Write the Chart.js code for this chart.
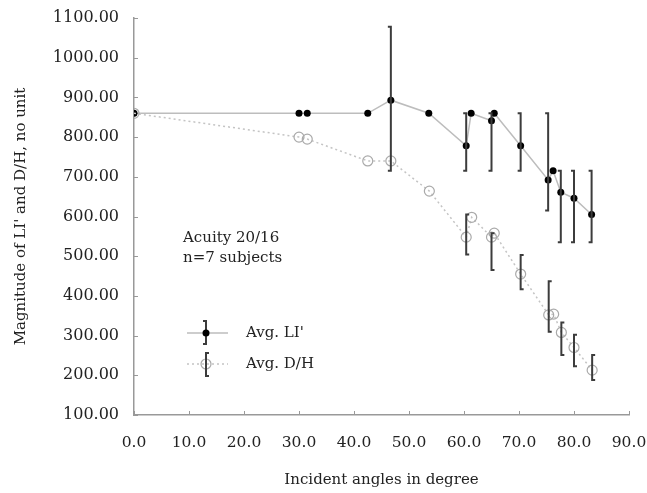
<!DOCTYPE html>
<html lang="en">
<head>
<meta charset="UTF-8" />
<title>LI' and D/H vs incident angle</title>
<script src="https://cdn.jsdelivr.net/npm/chart.js@4"></script>
<style>
  html, body { margin: 0; padding: 0; background: #fff; }
  #wrap { width: 647px; height: 493px; }
</style>
</head>
<body>
<div id="wrap"><canvas id="chart" width="647" height="493"></canvas></div>
<script>
  // Avg. LI' (filled dots, solid line, bars with left-facing caps)
  const liAngles = [0, 30, 31.5, 42.5, 46.7, 53.6, 60.4, 61.3, 65, 65.5, 70.3, 75.3, 76.2, 77.6, 80, 83.2];
  const liValues = [860, 860, 860, 860, 893, 860, 778, 860, 841, 860, 778, 692, 715, 661, 646, 605];
  const liLow    = [null, null, null, null, 715, null, 715, null, 715, null, 715, 615, null, 535, 535, 535];
  const liHigh   = [null, null, null, null, 1078, null, 860, null, 860, null, 860, 860, null, 715, 715, 715];

  // Avg. D/H (open circles, dotted line, bars with right-facing caps)
  const dhAngles = [0, 30, 31.5, 42.5, 46.7, 53.7, 60.4, 61.4, 65, 65.5, 70.3, 75.4, 76.3, 77.7, 80, 83.3];
  const dhValues = [860, 800, 795, 740, 740, 664, 548, 598, 548, 558, 455, 352, 354, 308, 270, 213];
  const dhLow    = [null, null, null, null, null, null, 504, null, 465, null, 417, 310, null, 251, 223, 188];
  const dhHigh   = [null, null, null, null, null, null, 605, null, 558, null, 503, 437, null, 333, 302, 251];

  const seriesNames = ["Avg. LI'", 'Avg. D/H'];
  const noteLines = ['Acuity 20/16', 'n=7 subjects'];

  const FONT = "'DejaVu Serif', serif";
  const TEXT = '#222';
  Chart.defaults.font.family = FONT;

  const toPoints = (xs, ys) => xs.map((a, i) => ({ x: a, y: ys[i] }));

  // error bars drawn through the chart scales
  const errorBars = {
    id: 'errorBars',
    afterDatasetsDraw(chart) {
      const { ctx, scales: { x, y } } = chart;
      const sets = [[dhAngles, dhLow, dhHigh, 1], [liAngles, liLow, liHigh, -1]];
      ctx.save();
      ctx.strokeStyle = '#3c3c3c';
      ctx.lineWidth = 2;
      sets.forEach(([ax, lo, hi, dir]) => {
        ax.forEach((a, i) => {
          if (lo[i] == null) return;
          const px = x.getPixelForValue(a);
          const y1 = y.getPixelForValue(hi[i]);
          const y2 = y.getPixelForValue(lo[i]);
          ctx.beginPath();
          ctx.moveTo(px + dir * 3, y1);
          ctx.lineTo(px, y1);
          ctx.lineTo(px, y2);
          ctx.lineTo(px + dir * 3, y2);
          ctx.stroke();
        });
      });
      ctx.restore();
    }
  };

  // small inward tick marks on both axes, plus the note and the legend
  const extras = {
    id: 'extras',
    afterDraw(chart) {
      const { ctx, scales: { x, y }, chartArea: a } = chart;
      ctx.save();
      ctx.strokeStyle = '#999';
      ctx.lineWidth = 1;
      x.ticks.forEach(t => {
        const px = Math.round(x.getPixelForValue(t.value)) + 0.5;
        ctx.beginPath(); ctx.moveTo(px, a.bottom); ctx.lineTo(px, a.bottom - 4); ctx.stroke();
      });
      y.ticks.forEach(t => {
        const py = Math.round(y.getPixelForValue(t.value)) + 0.5;
        ctx.beginPath(); ctx.moveTo(a.left, py); ctx.lineTo(a.left + 4, py); ctx.stroke();
      });

      ctx.fillStyle = TEXT;
      ctx.font = '15px ' + FONT;
      ctx.textBaseline = 'middle';
      ctx.textAlign = 'left';
      ctx.fillText(noteLines[0], 183, 238);
      ctx.fillText(noteLines[1], 183, 258);

      // legend: LI'
      const lx = 206, l1 = 333, l2 = 364;
      ctx.strokeStyle = '#bdbdbd'; ctx.lineWidth = 1.5;
      ctx.beginPath(); ctx.moveTo(187, l1); ctx.lineTo(228, l1); ctx.stroke();
      ctx.strokeStyle = '#3c3c3c'; ctx.lineWidth = 2;
      ctx.beginPath(); ctx.moveTo(lx - 3, l1 - 12); ctx.lineTo(lx, l1 - 12); ctx.lineTo(lx, l1 + 11); ctx.lineTo(lx - 3, l1 + 11); ctx.stroke();
      ctx.fillStyle = '#000';
      ctx.beginPath(); ctx.arc(lx, l1, 3.5, 0, Math.PI * 2); ctx.fill();
      // legend: D/H
      ctx.strokeStyle = '#c4c4c4'; ctx.lineWidth = 1.5; ctx.setLineDash([2, 3]);
      ctx.beginPath(); ctx.moveTo(187, l2); ctx.lineTo(228, l2); ctx.stroke();
      ctx.setLineDash([]);
      ctx.strokeStyle = '#aaa'; ctx.lineWidth = 1.2;
      ctx.beginPath(); ctx.arc(lx, l2, 5, 0, Math.PI * 2); ctx.stroke();
      ctx.strokeStyle = '#3c3c3c'; ctx.lineWidth = 2;
      ctx.beginPath(); ctx.moveTo(lx + 3, l2 - 11); ctx.lineTo(lx, l2 - 11); ctx.lineTo(lx, l2 + 12); ctx.lineTo(lx + 3, l2 + 12); ctx.stroke();

      ctx.fillStyle = TEXT;
      ctx.fillText(seriesNames[0], 246, l1);
      ctx.fillText(seriesNames[1], 246, l2);
      ctx.restore();
    }
  };

  new Chart(document.getElementById('chart'), {
    type: 'scatter',
    data: {
      datasets: [
        {
          label: seriesNames[1],
          data: toPoints(dhAngles, dhValues),
          showLine: true,
          borderColor: '#c4c4c4',
          borderWidth: 1.5,
          borderDash: [2, 3],
          pointStyle: 'circle',
          pointRadius: 5,
          pointBorderWidth: 1.2,
          pointBorderColor: '#aaa',
          pointBackgroundColor: 'rgba(255,255,255,0)'
        },
        {
          label: seriesNames[0],
          data: toPoints(liAngles, liValues),
          showLine: true,
          borderColor: '#bdbdbd',
          borderWidth: 1.5,
          pointRadius: 3.5,
          pointBorderWidth: 0,
          pointBackgroundColor: '#000'
        }
      ]
    },
    options: {
      responsive: false,
      animation: false,
      layout: { padding: { top: 18, right: 18, left: 0, bottom: 0 } },
      plugins: { legend: { display: false }, tooltip: { enabled: false } },
      scales: {
        x: {
          type: 'linear', min: 0, max: 90,
          ticks: { stepSize: 10, padding: 19, color: TEXT, maxRotation: 0,
                   font: { size: 15.5 }, callback: v => v.toFixed(1) },
          grid: { display: false, drawTicks: false },
          border: { display: true, color: '#999', width: 1.5 },
          title: { display: true, text: 'Incident angles in degree', color: TEXT,
                   font: { size: 15 }, padding: { top: 0, bottom: 4 } },
          afterFit: s => { s.height = 78; s.paddingLeft = 0; s.paddingRight = 0; }
        },
        y: {
          min: 100, max: 1100,
          ticks: { stepSize: 100, padding: 15, color: TEXT,
                   font: { size: 16 }, callback: v => v.toFixed(2) },
          grid: { display: false, drawTicks: false },
          border: { display: true, color: '#999', width: 1.5 },
          title: { display: true, text: "Magnitude of LI' and D/H, no unit", color: TEXT,
                   font: { size: 15 }, padding: { top: 12, bottom: 0 } },
          afterFit: s => { s.width = 134; s.paddingTop = 0; s.paddingBottom = 0; }
        }
      }
    },
    plugins: [errorBars, extras]
  });
</script>
</body>
</html>
